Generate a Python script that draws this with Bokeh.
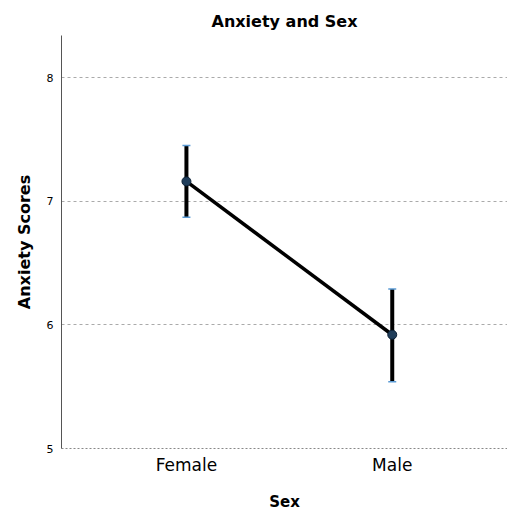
from bokeh.plotting import figure
from bokeh.models import ColumnDataSource, Whisker, TeeHead, FixedTicker, Range1d
from bokeh.embed import file_html
from bokeh.resources import INLINE

categories = ["Female", "Male"]
means = [7.16, 5.92]
upper = [7.45, 6.29]
lower = [6.87, 5.54]
y_ticks = [5, 6, 7, 8]
grid_ticks = [6, 7, 8]

xpos = list(range(len(categories)))
src = ColumnDataSource(dict(x=xpos, m=means, u=upper, l=lower))

p = figure(width=507, height=513, output_backend="svg", toolbar_location=None,
           x_range=Range1d(-0.607, 1.56), y_range=Range1d(5, 8.34),
           min_border_left=61, min_border_right=0, min_border_top=35, min_border_bottom=63)
p.outline_line_color = None
p.background_fill_color = "white"
p.border_fill_color = "white"

p.title.text = "Anxiety and Sex"
p.title.align = "center"
p.title.text_font = "DejaVu Sans"
p.title.text_font_size = "16px"
p.title.text_font_style = "bold"
p.title.text_color = "black"

w = Whisker(source=src, base="x", upper="u", lower="l", line_color="black", line_width=4,
            upper_head=TeeHead(size=8, line_color="#5b9bd5", line_width=1.5),
            lower_head=TeeHead(size=8, line_color="#5b9bd5", line_width=1.5))
p.add_layout(w)
p.line("x", "m", source=src, line_color="black", line_width=3.5)
p.scatter("x", "m", source=src, size=9, fill_color="#1f3d5a", line_color="#0b2036", line_width=1)

p.xaxis.ticker = FixedTicker(ticks=xpos)
p.xaxis.major_label_overrides = {i: c for i, c in enumerate(categories)}
p.yaxis.ticker = FixedTicker(ticks=y_ticks)
for ax in (p.xaxis, p.yaxis):
    ax.major_tick_line_color = None
    ax.minor_tick_line_color = None
    ax.major_tick_out = 0
    ax.major_tick_in = 0
    ax.axis_label_text_font = "DejaVu Sans"
    ax.axis_label_text_font_style = "bold"
    ax.axis_label_text_color = "black"
    ax.major_label_text_font = "DejaVu Sans"
    ax.major_label_text_color = "black"
p.xaxis.axis_label = "Sex"
p.yaxis.axis_label = "Anxiety Scores"
p.xaxis.axis_label_text_font_size = "15px"
p.yaxis.axis_label_text_font_size = "16px"
p.xaxis.major_label_text_font_size = "17px"
p.yaxis.major_label_text_font_size = "11px"
p.xaxis.axis_line_color = "#888888"
p.xaxis.axis_line_dash = "2 2"
p.yaxis.axis_line_color = "#555555"
p.xaxis.major_label_standoff = 6
p.xaxis.axis_label_standoff = 15
p.yaxis.major_label_standoff = 8
p.yaxis.axis_label_standoff = 10

p.xgrid.grid_line_color = None
p.ygrid.grid_line_color = "#aaaaaa"
p.ygrid.grid_line_dash = "3 3"
p.ygrid.ticker = FixedTicker(ticks=grid_ticks)

open("out.html", "w").write(file_html(p, INLINE))
